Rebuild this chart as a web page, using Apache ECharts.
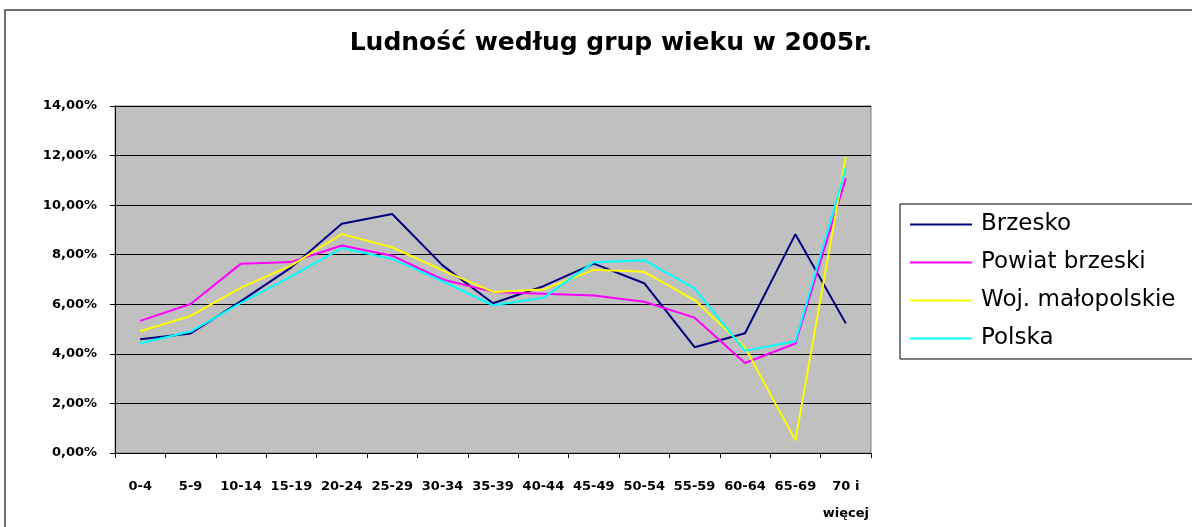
<!DOCTYPE html>
<html>
<head>
<meta charset="utf-8" />
<title>Ludność według grup wieku w 2005r.</title>
<script src="https://cdn.jsdelivr.net/npm/echarts@6/dist/echarts.min.js"></script>
<style type="text/css">
  html, body { margin: 0; padding: 0; background: #fff; }
</style>
</head>
<body>
<div id="main" style="width: 1192px; height: 527px"></div>
<script type="text/javascript">

// grupy wieku
var ageGroups = ['0-4', '5-9', '10-14', '15-19', '20-24', '25-29', '30-34', '35-39',
                 '40-44', '45-49', '50-54', '55-59', '60-64', '65-69', '70 i więcej'];

// udział w %
var brzesko  = [4.59, 4.82, 6.13, 7.49, 9.25, 9.64, 7.57, 6.04, 6.73, 7.64, 6.85, 4.27, 4.83, 8.83, 5.23];
var powiat   = [5.33, 6.01, 7.64, 7.71, 8.37, 7.96, 7.00, 6.50, 6.43, 6.35, 6.10, 5.46, 3.63, 4.42, 11.08];
var wojewodz = [4.91, 5.53, 6.67, 7.57, 8.83, 8.30, 7.37, 6.50, 6.60, 7.39, 7.31, 6.17, 4.26, 0.51, 11.95];
var polska   = [4.43, 4.90, 6.06, 7.13, 8.27, 7.83, 6.93, 5.96, 6.26, 7.70, 7.78, 6.64, 4.12, 4.51, 11.49];

var seriesNames = ['Brzesko', 'Powiat brzeski', 'Woj. małopolskie', 'Polska'];
var seriesColors = ['#000080', '#FF00FF', '#FFFF00', '#00FFFF'];
var seriesData = [brzesko, powiat, wojewodz, polska];

var myChart = echarts.init(document.getElementById('main'));

var series = [];
for (var i = 0; i < seriesNames.length; i++) {
    series.push({
        name: seriesNames[i],
        type: 'line',
        symbol: 'none',
        data: seriesData[i],
        lineStyle: { color: seriesColors[i], width: 2 },
        itemStyle: { color: seriesColors[i] }
    });
}

var option = {
    backgroundColor: '#fff',
    animation: false,
    title: {
        text: 'Ludność według grup wieku w 2005r.',
        left: 606,
        top: 26,
        textAlign: 'center',
        textStyle: { fontFamily: 'DejaVu Sans', fontWeight: 'bold', fontSize: 25, color: '#000' }
    },
    graphic: [{
        type: 'rect',
        shape: { x: 5, y: 10, width: 1200, height: 600 },
        style: { fill: 'none', stroke: '#404040', lineWidth: 1.5 },
        z: -1
    }],
    legend: {
        orient: 'vertical',
        left: 900,
        top: 204,
        data: seriesNames,
        icon: 'rect',
        itemWidth: 62,
        itemHeight: 2,
        itemGap: 15,
        padding: [9, 20, 9, 10],
        borderColor: '#000',
        borderWidth: 1,
        textStyle: { fontFamily: 'DejaVu Sans', fontSize: 23, lineHeight: 23, color: '#000', padding: [0, 0, 0, 4] }
    },
    grid: {
        left: 115,
        right: 321,
        top: 106,
        bottom: 72,
        show: true,
        backgroundColor: '#C0C0C0',
        borderColor: '#808080',
        borderWidth: 1
    },
    xAxis: {
        type: 'category',
        data: ageGroups,
        boundaryGap: true,
        axisLine: { lineStyle: { color: '#000', width: 1 } },
        axisTick: { show: true, length: 5, lineStyle: { color: '#000' } },
        axisLabel: {
            interval: 0,
            margin: 20,
            lineHeight: 27,
            fontFamily: 'DejaVu Sans',
            fontWeight: 'bold',
            fontSize: 13,
            color: '#000',
            formatter: function (v) { return v.replace(' i ', ' i\n'); }
        }
    },
    yAxis: {
        type: 'value',
        min: 0,
        max: 14,
        interval: 2,
        axisLine: { show: true, lineStyle: { color: '#000', width: 1 } },
        axisTick: { show: true, length: 5, lineStyle: { color: '#000' } },
        splitLine: { show: true, lineStyle: { color: '#000', width: 1 } },
        axisLabel: {
            margin: 18,
            fontFamily: 'DejaVu Sans',
            fontWeight: 'bold',
            fontSize: 13,
            color: '#000',
            formatter: function (v) { return v.toFixed(2).replace('.', ',') + '%'; }
        }
    },
    series: series
};

myChart.setOption(option);

</script>
</body>
</html>
